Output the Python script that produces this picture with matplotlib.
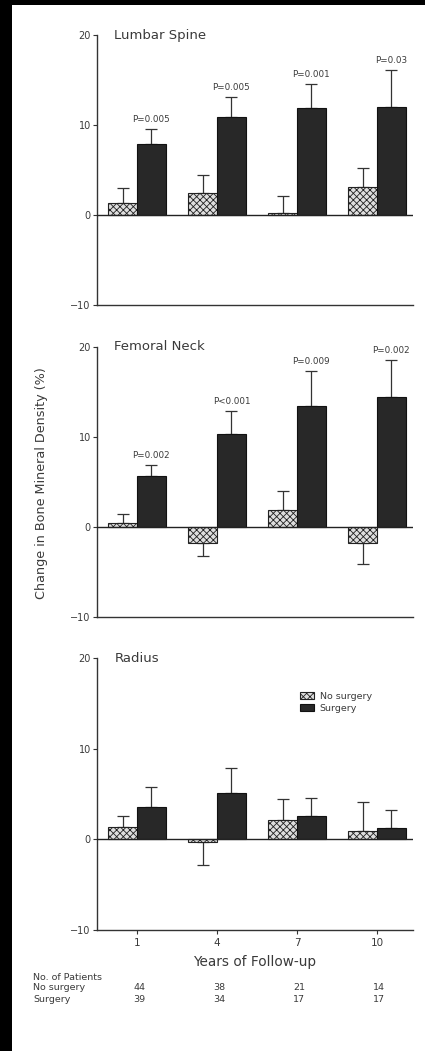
import matplotlib
matplotlib.use("Agg")
import matplotlib.pyplot as plt
import matplotlib.transforms as mtransforms
from matplotlib.patches import Patch, Rectangle
import numpy as np

plt.rcParams['font.family'] = ['DejaVu Sans']
plt.rcParams['hatch.color'] = '#6a6a6a'
plt.rcParams['hatch.linewidth'] = 0.6

years = ['1', '4', '7', '10']

lumbar_no = [1.3, 2.5, 0.2, 3.1]
lumbar_no_err = [1.7, 2.0, 1.9, 2.1]
lumbar_sx = [7.9, 10.9, 11.9, 12.0]
lumbar_sx_err = [1.7, 2.2, 2.7, 4.1]
lumbar_p = ['P=0.005', 'P=0.005', 'P=0.001', 'P=0.03']

femoral_no = [0.4, -1.8, 1.9, -1.8]
femoral_no_err = [1.1, 1.4, 2.1, 2.3]
femoral_sx = [5.7, 10.3, 13.5, 14.4]
femoral_sx_err = [1.2, 2.6, 3.8, 4.2]
femoral_p = ['P=0.002', 'P<0.001', 'P=0.009', 'P=0.002']

radius_no = [1.4, -0.3, 2.1, 0.9]
radius_no_err = [1.2, 2.5, 2.3, 3.2]
radius_sx = [3.6, 5.1, 2.6, 1.2]
radius_sx_err = [2.2, 2.8, 2.0, 2.0]

patients_no = [44, 38, 21, 14]
patients_sx = [39, 34, 17, 17]

W, H = 425, 1051
fig = plt.figure(figsize=(W / 100, H / 100), dpi=100)
fig.patch.set_facecolor('white')

TXT = '#3a3a3a'
LIGHT = '#dedede'
DARK = '#282828'
bw = 0.36
x = np.arange(len(years))


def px_axes(x0, x1, y_top, y_bot):
    return fig.add_axes([x0 / W, 1 - y_bot / H, (x1 - x0) / W, (y_bot - y_top) / H])


def one_sided(vals, errs):
    lower = [e if v < 0 else 0 for v, e in zip(vals, errs)]
    upper = [e if v >= 0 else 0 for v, e in zip(vals, errs)]
    return [lower, upper]


def panel(ax, title, no, no_err, sx, sx_err, pvals=None, bottom=False):
    ax.set_xlim(-0.5, 3.45)
    ax.set_ylim(-10, 20)
    ax.bar(x - bw / 2, no, bw, color=LIGHT, edgecolor='#222222',
           hatch='xxxxx', linewidth=0.8, zorder=3)
    ax.bar(x + bw / 2, sx, bw, color=DARK, edgecolor='#111111',
           linewidth=0.8, zorder=3)
    ax.errorbar(x - bw / 2, no, yerr=one_sided(no, no_err), fmt='none',
                ecolor='#333333', elinewidth=0.9, capsize=4.5, capthick=0.9, zorder=2)
    ax.errorbar(x + bw / 2, sx, yerr=one_sided(sx, sx_err), fmt='none',
                ecolor='#333333', elinewidth=0.9, capsize=4.5, capthick=0.9, zorder=2)
    ax.axhline(0, color='#222222', linewidth=1.0, zorder=4)
    if pvals:
        for xi, v, e, p in zip(x, sx, sx_err, pvals):
            ax.annotate(p, (xi + bw / 2, v + e), xytext=(0, 3.5),
                        textcoords='offset points', ha='center', va='bottom',
                        fontsize=6.3, color=TXT)
    ax.text(0.055, 1.0, title, transform=ax.transAxes, fontsize=9.5,
            color=TXT, ha='left', va='center')
    for s in ('top', 'right'):
        ax.spines[s].set_visible(False)
    for s in ('left', 'bottom'):
        ax.spines[s].set_color('#333333')
        ax.spines[s].set_linewidth(1.0)
    ax.set_yticks([-10, 0, 10, 20])
    ax.set_yticklabels(['\u221210', '0', '10', '20'])
    ax.tick_params(axis='y', labelsize=7, colors='#333333', labelcolor=TXT,
                   length=3, width=0.8, pad=1.5)
    ax.set_xticks(x)
    if bottom:
        ax.set_xticklabels(years)
        ax.tick_params(axis='x', labelsize=7.5, colors='#333333', labelcolor=TXT,
                       length=3, width=0.8, pad=3)
    else:
        ax.set_xticklabels([])
        ax.tick_params(axis='x', length=0)
    ax.patch.set_alpha(0)


ax1 = px_axes(97, 413, 35, 305)
panel(ax1, 'Lumbar Spine', lumbar_no, lumbar_no_err, lumbar_sx, lumbar_sx_err, lumbar_p)

ax2 = px_axes(97, 413, 347, 617)
panel(ax2, 'Femoral Neck', femoral_no, femoral_no_err, femoral_sx, femoral_sx_err, femoral_p)

ax3 = px_axes(97, 413, 658, 930)
panel(ax3, 'Radius', radius_no, radius_no_err, radius_sx, radius_sx_err, bottom=True)

handles = [Patch(facecolor=LIGHT, edgecolor='#222222', hatch='xxxxx', linewidth=0.8),
           Patch(facecolor=DARK, edgecolor='#111111', linewidth=0.8)]
leg = ax3.legend(handles, ['No surgery', 'Surgery'], loc='upper left',
                 bbox_to_anchor=(0.63, 0.89), frameon=False, fontsize=6.8,
                 handlelength=1.5, handleheight=0.75, handletextpad=0.6,
                 labelspacing=0.3, borderaxespad=0)
for t in leg.get_texts():
    t.set_color(TXT)

fig.text(42 / W, 1 - 483 / H, 'Change in Bone Mineral Density (%)', rotation=90,
         ha='center', va='center', fontsize=9.2, color=TXT)
fig.text(255 / W, 1 - 962 / H, 'Years of Follow-up', ha='center', va='center',
         fontsize=9.8, color=TXT)

fig.text(33 / W, 1 - 977 / H, 'No. of Patients', ha='left', va='center',
         fontsize=6.8, color=TXT)
fig.text(33 / W, 1 - 988 / H, 'No surgery', ha='left', va='center',
         fontsize=6.8, color=TXT)
fig.text(33 / W, 1 - 999 / H, 'Surgery', ha='left', va='center',
         fontsize=6.8, color=TXT)
blend = mtransforms.blended_transform_factory(ax3.transData, fig.transFigure)
for xi, a, b in zip(x, patients_no, patients_sx):
    fig.text(xi + 0.03, 1 - 988 / H, str(a), transform=blend, ha='center',
             va='center', fontsize=6.8, color=TXT)
    fig.text(xi + 0.03, 1 - 999 / H, str(b), transform=blend, ha='center',
             va='center', fontsize=6.8, color=TXT)

# dark frame along the left and top edges
fig.patches.append(Rectangle((0, 0), 12 / W, 1, transform=fig.transFigure,
                             facecolor='black', edgecolor='none', zorder=10))
fig.patches.append(Rectangle((0, 1 - 5 / H), 1, 5 / H, transform=fig.transFigure,
                             facecolor='black', edgecolor='none', zorder=10))

fig.savefig('out.png', dpi=100, facecolor='white')
